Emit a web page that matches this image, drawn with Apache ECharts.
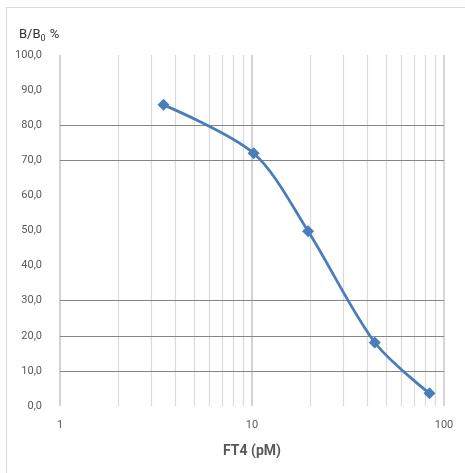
<!DOCTYPE html>
<html>
<head>
<meta charset="utf-8">
<script src="https://cdn.jsdelivr.net/npm/echarts@6/dist/echarts.min.js"></script>
<style>
html,body{margin:0;padding:0;background:#fff;}
#frame{position:absolute;left:6px;top:7px;width:459px;height:466px;border-top:1px solid #d9d9d9;border-left:1px solid #d9d9d9;box-sizing:border-box;}
#chart{position:absolute;left:0;top:0;width:465px;height:473px;}
</style>
</head>
<body>
<div id="frame"></div>
<div id="chart"></div>
<script>
// Data
const concentrations = [3.46, 10.2, 19.6, 43.6, 84];   // FT4 (pM)
const bindingPercent = [85.8, 72.0, 49.8, 18.1, 3.6];   // B/B0 %
const xMinorGrid = [2, 3, 4, 5, 6, 7, 8, 9, 20, 30, 40, 50, 60, 70, 80, 90];
const yGridShown = [10, 20, 30, 70, 80];
const xAxisTitle = 'FT4 (pM)';

const points = concentrations.map((c, i) => [c, bindingPercent[i]]);

const gridMarks = [];
xMinorGrid.forEach(v => gridMarks.push({xAxis: v, lineStyle: {color: '#dadada', width: 1.2, type: 'solid'}}));
gridMarks.push({xAxis: 100, lineStyle: {color: '#d6d6d6', width: 2, type: 'solid'}});
yGridShown.forEach(v => gridMarks.push({yAxis: v, lineStyle: {color: '#868686', width: 1, type: 'solid'}}));

const fmt = v => v.toFixed(1).replace('.', ',');

const chart = echarts.init(document.getElementById('chart'), null, {renderer: 'canvas'});
chart.setOption({
  animation: false,
  backgroundColor: 'transparent',
  title: {
    text: '{a|B/B}{s|0}{a| %}',
    left: 14, top: 22,
    textStyle: {
      fontWeight: 'normal',
      rich: {
        a: {fontFamily: 'Roboto', fontSize: 13, fontWeight: 'normal', color: '#333333'},
        s: {fontFamily: 'Roboto', fontSize: 9, fontWeight: 'normal', color: '#333333', padding: [7, 1, 0, 0]}
      }
    }
  },
  grid: {left: 60, right: 21, top: 55, bottom: 67, containLabel: false},
  xAxis: {
    type: 'log', logBase: 10, min: 1, max: 100,
    name: xAxisTitle, nameLocation: 'middle', nameGap: 38,
    nameTextStyle: {fontFamily: 'Roboto', fontSize: 14, fontWeight: 'bold', color: '#595959'},
    axisLine: {show: false}, axisTick: {show: false},
    axisLabel: {fontFamily: 'Roboto', fontSize: 11, color: '#595959', margin: 14},
    splitLine: {show: true, lineStyle: {color: '#c4c4c4', width: 1.5}},
    minorTick: {show: false}, minorSplitLine: {show: false}
  },
  yAxis: {
    type: 'value', min: 0, max: 100, interval: 10,
    axisLine: {show: false}, axisTick: {show: false},
    axisLabel: {fontFamily: 'Roboto', fontSize: 11, color: '#595959', margin: 18, formatter: fmt},
    splitLine: {show: false}
  },
  series: [
    {
      type: 'line', data: points, z: 1, silent: true,
      symbol: 'none', lineStyle: {opacity: 0},
      markLine: {silent: true, symbol: 'none', label: {show: false}, animation: false, data: gridMarks}
    },
    {
      type: 'line', data: points, z: 5,
      smooth: 0.3,
      symbol: 'diamond', symbolSize: 12,
      lineStyle: {color: '#4a7ebb', width: 2.8},
      itemStyle: {color: '#4a7ebb'}
    }
  ]
});
</script>
</body>
</html>
